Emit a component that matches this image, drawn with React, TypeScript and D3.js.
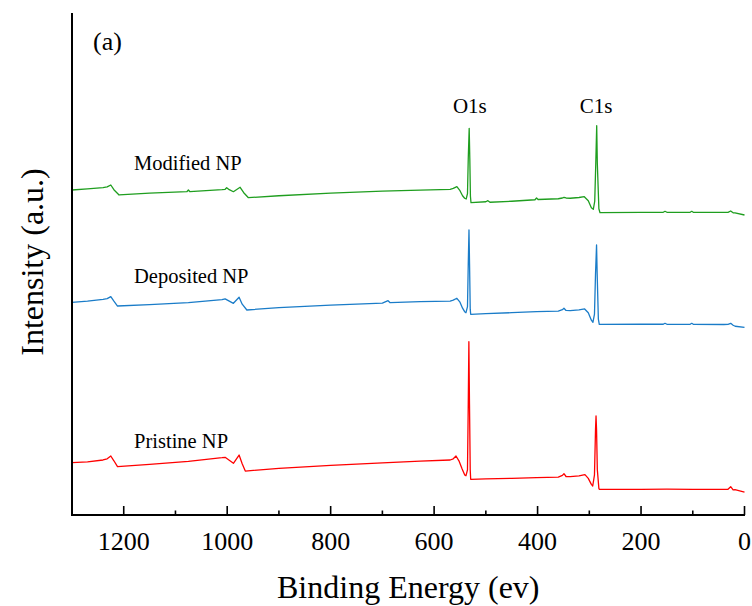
import React from "react";
import * as d3 from "d3";

// Binding energy (eV) vs intensity (a.u., stacked offsets)
const pristine: [number, number][] = [
  [1300, 10.42], [1270, 10.6], [1240, 10.96], [1232, 11.2], [1225, 11.75], [1219, 10.8], [1212, 9.62],
  [1150, 10.1], [1075, 10.7], [1010, 11.41], [1004, 11.49], [996, 10.9], [988, 10.3], [977, 11.95],
  [971, 10.2], [965, 8.76], [900, 9.3], [800, 9.9], [700, 10.4], [627, 10.75], [569, 10.96],
  [563, 11.2], [557.7, 11.75], [552, 10.8], [546, 9.2], [541, 8.0], [538.4, 7.83], [535.5, 9],
  [534, 22], [532.8, 34.52], [531.6, 22], [530.2, 9], [529.3, 7.11], [500, 7.2], [450, 7.3],
  [402, 7.43], [360, 7.55], [352, 7.9], [349, 8.23], [345, 7.67], [337, 7.63], [320, 7.8],
  [308.4, 8.03], [302, 7.3], [296, 6.1], [293.4, 5.78], [290, 8], [288, 17], [287, 19.72],
  [286, 17], [284.5, 9], [281.5, 5.3], [280.7, 5.12], [200, 5.12], [150, 5.15], [100, 5.12],
  [31.9, 5.12], [26.7, 5.64], [22, 5.0], [18.4, 5.04], [0, 4.58],
];

const deposited: [number, number][] = [
  [1300, 42.37], [1270, 42.6], [1240, 42.97], [1232, 43.1], [1225, 43.49], [1219, 42.6], [1212, 41.63],
  [1150, 41.9], [1075, 42.3], [1010, 42.9], [1004, 43.05], [996, 42.6], [988, 42.17], [977, 43.37],
  [971, 42.0], [962, 40.84], [900, 41.3], [800, 41.8], [700, 42.2], [689, 42.69], [685, 42.3],
  [627, 42.49], [569, 42.62], [563, 42.8], [556, 43.17], [550, 42.4], [545, 41.2], [541, 40.5],
  [538.4, 40.3], [535.5, 41.5], [534, 50], [532.6, 56.77], [531.5, 50], [530.2, 41], [529.3, 39.98],
  [500, 40.1], [450, 40.3], [402, 40.5], [360, 40.6], [352, 40.9], [349, 41.18], [345, 40.75],
  [337, 40.7], [320, 40.85], [309, 41.04], [302, 40.3], [296, 38.8], [293, 38.39], [290, 40],
  [288, 48], [286, 53.78], [284.8, 48], [282.5, 39], [280.7, 37.99], [200, 38.0], [157, 38.0],
  [153.7, 38.19], [150, 37.99], [105, 37.99], [102, 38.19], [99, 37.99], [40, 37.95], [31.9, 37.99],
  [26.7, 38.19], [22, 37.8], [18, 37.6], [0, 37.39],
];

const modified: [number, number][] = [
  [1300, 64.74], [1270, 64.95], [1240, 65.2], [1232, 65.35], [1225, 65.74], [1219, 64.8], [1209, 63.75],
  [1150, 64.1], [1078, 64.4], [1075, 64.74], [1072, 64.4], [1010, 64.8], [1004, 64.88], [1001, 65.2],
  [996, 64.8], [988, 64.4], [975, 65.28], [968, 64.2], [959, 63.21], [900, 63.6], [800, 64.1],
  [700, 64.5], [627, 64.7], [569, 64.88], [563, 65.05], [556, 65.4], [550, 64.6], [545, 63.6],
  [541, 63.1], [538, 62.95], [535.5, 64], [534, 71], [532.2, 77.03], [531, 71], [529.8, 63.5],
  [528.7, 62.21], [500, 62.4], [496, 62.61], [492, 62.3], [450, 62.5], [405, 62.8], [402, 63.15],
  [399, 62.85], [360, 63.0], [352, 63.15], [349, 63.29], [345, 63.15], [337, 63.1], [320, 63.25],
  [309.7, 63.41], [302, 62.6], [296, 61.2], [292.3, 60.9], [289.5, 62.5], [287.5, 70], [285.7, 77.55],
  [284.5, 70], [281.5, 61], [279.3, 60.22], [200, 60.28], [157, 60.3], [153.7, 60.5], [150, 60.3],
  [105, 60.3], [102, 60.5], [99, 60.3], [40, 60.3], [31.9, 60.3], [26.7, 60.56], [22, 60.2],
  [18.4, 60.2], [0, 59.76],
];

const seriesNames = ["Pristine NP", "Deposited NP", "Modified NP"];
const seriesColors = ["#ff0000", "#1a7cc8", "#1f9e1f"];
const seriesData = [pristine, deposited, modified];
// label anchors: [binding energy, intensity]
const seriesLabelPos: [number, number][] = [[1180, 13.4], [1180, 46.2], [1180, 68.7]];

const majorTicks = [1200, 1000, 800, 600, 400, 200, 0];
const minorTicks = [1100, 900, 700, 500, 300, 100];
const peakLabels = ["O1s", "C1s"];
const peakLabelPos: [number, number][] = [[531, 80.0], [287, 80.0]];

const FONT = "'Liberation Serif', 'Times New Roman', Times, serif";

export default function App() {
  const W = 752;
  const H = 606;
  const x = d3.scaleLinear().domain([1300, 0]).range([72, 744.5]);
  const y = d3.scaleLinear().domain([0, 100]).range([515, 13]);
  const line = d3
    .line<[number, number]>()
    .x((d) => x(d[0]))
    .y((d) => y(d[1]));

  const x0 = x(1300);
  const yb = y(0);

  return (
    <svg
      width={W}
      height={H}
      style={{ position: "absolute", left: 0, top: 0, background: "#fff" }}
      fontFamily={FONT}
    >
      <rect x={0} y={0} width={W} height={H} fill="#fff" />
      {seriesData.map((d, i) => (
        <path
          key={i}
          d={line(d) || ""}
          fill="none"
          stroke={seriesColors[i]}
          strokeWidth={1.3}
          strokeLinejoin="round"
        />
      ))}
      {/* axes */}
      <line x1={x0} x2={x0} y1={y(100)} y2={yb + 1} stroke="#000" strokeWidth={2} />
      <line x1={x0 - 1} x2={x(0) + 0.5} y1={yb} y2={yb} stroke="#000" strokeWidth={2} />
      {majorTicks.map((t) => (
        <line key={"M" + t} x1={x(t)} x2={x(t)} y1={yb} y2={yb - 9} stroke="#000" strokeWidth={1.6} />
      ))}
      {minorTicks.map((t) => (
        <line key={"m" + t} x1={x(t)} x2={x(t)} y1={yb} y2={yb - 4.5} stroke="#000" strokeWidth={1.6} />
      ))}
      {majorTicks.map((t) => (
        <text key={"t" + t} x={x(t)} y={550} textAnchor="middle" fontSize={26} fill="#000">
          {t}
        </text>
      ))}
      <text x={(72 + 744.5) / 2} y={598} textAnchor="middle" fontSize={32} fill="#000">
        Binding Energy (ev)
      </text>
      <text
        transform={`translate(43, ${262}) rotate(-90)`}
        textAnchor="middle"
        fontSize={32}
        fill="#000"
      >
        Intensity (a.u.)
      </text>
      <text x={93} y={50} fontSize={26} fill="#000">
        (a)
      </text>
      {peakLabels.map((p, i) => (
        <text
          key={p}
          x={x(peakLabelPos[i][0])}
          y={y(peakLabelPos[i][1])}
          textAnchor="middle"
          fontSize={21}
          fill="#000"
        >
          {p}
        </text>
      ))}
      {seriesNames.map((n, i) => (
        <text key={n} x={x(seriesLabelPos[i][0])} y={y(seriesLabelPos[i][1])} fontSize={20.5} fill="#000">
          {n}
        </text>
      ))}
    </svg>
  );
}
